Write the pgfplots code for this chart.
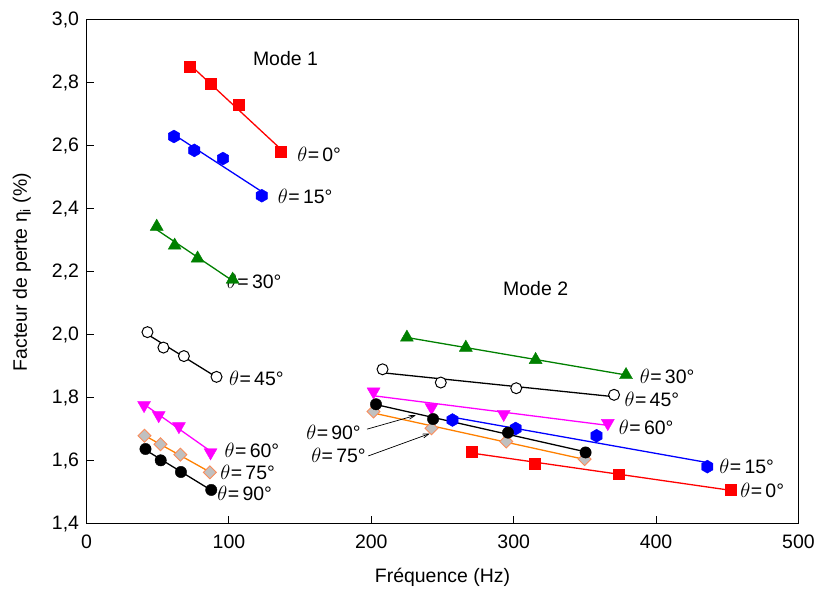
\documentclass[border=0pt]{standalone}
\usepackage{pgfplots}
\pgfplotsset{compat=1.18}
\usepackage{fontspec}
\setmainfont{Liberation Sans}
\usetikzlibrary{arrows.meta}

\definecolor{cred}{RGB}{255,0,0}
\definecolor{cblue}{RGB}{0,0,255}
\definecolor{cgreen}{RGB}{0,128,0}
\definecolor{cmag}{RGB}{255,0,255}
\definecolor{corange}{RGB}{255,128,0}
\definecolor{cdiaedge}{RGB}{250,140,90}
\definecolor{cgray}{RGB}{192,192,192}

\pgfdeclareplotmark{hexagon*}{%
  \pgfpathmoveto{\pgfpointpolar{90}{\pgfplotmarksize}}%
  \pgfpathlineto{\pgfpointpolar{150}{\pgfplotmarksize}}%
  \pgfpathlineto{\pgfpointpolar{210}{\pgfplotmarksize}}%
  \pgfpathlineto{\pgfpointpolar{270}{\pgfplotmarksize}}%
  \pgfpathlineto{\pgfpointpolar{330}{\pgfplotmarksize}}%
  \pgfpathlineto{\pgfpointpolar{30}{\pgfplotmarksize}}%
  \pgfpathclose
  \pgfusepathqfillstroke
}
\newcommand{\thlab}[1]{{\fontsize{22.5bp}{23bp}\selectfont$\theta$}\kern0.5bp=\,#1°}

\begin{document}
\begin{tikzpicture}
\begin{axis}[name=ax,
  scale only axis, width=713.3bp, height=505bp,
  xmin=0, xmax=500, ymin=1.4, ymax=3.0,
  xtick={0,100,200,300,400,500},
  ytick={1.4,1.6,1.8,2.0,2.2,2.4,2.6,2.8,3.0},
  tick align=inside, xtick pos=left, ytick pos=left,
  major tick length=7.5bp,
  axis line style={line width=1bp},
  every tick/.style={black, line width=1bp},
  /pgf/number format/assume math mode=true,
  yticklabel style={/pgf/number format/fixed, /pgf/number format/fixed zerofill,
    /pgf/number format/precision=1, /pgf/number format/use comma, xshift=-4bp},
  xticklabel style={yshift=-7bp},
  font=\fontsize{19.5bp}{23bp}\selectfont,
  xlabel={Fréquence (Hz)},
  ylabel={Facteur de perte η\textsubscript{i} (\%)},
  xlabel style={at={(axis description cs:0.5,-0.105)}, anchor=center},
  ylabel style={at={(axis description cs:-0.0907,0.5)}, anchor=center},
  clip=false,
]
% ---- regression lines, mode 1
\addplot[cred, line width=1.3bp] coordinates {(72.4,2.859) (136.2,2.591)};
\addplot[cblue, line width=1.3bp] coordinates {(61.4,2.636) (123.1,2.455)};
\addplot[cgreen, line width=1.3bp] coordinates {(49.3,2.334) (102.6,2.172)};
\addplot[black, line width=1.3bp] coordinates {(42.8,2.002) (91.3,1.866)};
\addplot[cmag, line width=1.3bp] coordinates {(40.4,1.780) (87.1,1.631)};
\addplot[corange, line width=1.3bp] coordinates {(40.7,1.681) (86.6,1.565)};
\addplot[black, line width=1.3bp] coordinates {(41.4,1.635) (87.6,1.507)};
% ---- regression lines, mode 2
\addplot[cgreen, line width=1.3bp] coordinates {(225.0,1.992) (378.9,1.873)};
\addplot[black, line width=1.3bp] coordinates {(207.9,1.880) (370.5,1.804)};
\addplot[cmag, line width=1.3bp] coordinates {(201.6,1.807) (366.1,1.713)};
\addplot[cblue, line width=1.3bp] coordinates {(257.0,1.739) (436.0,1.595)};
\addplot[corange, line width=1.3bp] coordinates {(201.6,1.752) (349.8,1.605)};
\addplot[black, line width=1.3bp] coordinates {(203.3,1.779) (350.5,1.629)};
\addplot[cred, line width=1.3bp] coordinates {(270.6,1.625) (452.1,1.507)};

% ---- marks
% theta = 0
\addplot[only marks, mark=square*, mark size=5.5bp, draw=cred, fill=cred] coordinates {
 (72.4,2.851) (87.1,2.797) (106.8,2.731) (136.2,2.582)
 (270.6,1.630) (315.0,1.590) (373.8,1.558) (452.1,1.509)};
% theta = 15
\addplot[only marks, mark=hexagon*, mark size=6.5bp, draw=cblue, fill=cblue] coordinates {
 (61.4,2.630) (75.7,2.586) (95.8,2.560) (123.1,2.442)
 (257.0,1.730) (301.4,1.703) (358.2,1.680) (436.0,1.582)};
% theta = 30
\addplot[only marks, mark=triangle*, mark size=7.5bp, draw=cgreen, fill=cgreen] coordinates {
 (49.3,2.344) (61.9,2.284) (78.0,2.243) (102.6,2.176)
 (225.0,1.992) (266.4,1.960) (315.4,1.921) (378.9,1.873)};
% theta = 45
\addplot[only marks, mark=*, mark size=5.5bp, draw=black, fill=white, line width=1bp] coordinates {
 (42.8,2.009) (54.0,1.960) (68.4,1.933) (91.3,1.867)
 (207.9,1.891) (248.8,1.849) (301.8,1.831) (370.5,1.810)};
% theta = 60
\addplot[only marks, mark=triangle*, mark size=7.5bp, mark options={rotate=180}, draw=cmag, fill=cmag] coordinates {
 (40.4,1.777) (50.7,1.745) (64.9,1.710) (87.1,1.627)
 (201.6,1.820) (242.3,1.770) (293.0,1.749) (366.1,1.720)};
% theta = 75
\addplot[only marks, mark=square*, mark size=4.6bp, mark options={rotate=45}, draw=cdiaedge, fill=cgray, line width=0.9bp] coordinates {
 (40.7,1.680) (51.9,1.653) (65.9,1.620) (86.6,1.564)
 (201.6,1.757) (242.3,1.704) (294.8,1.662) (349.8,1.606)};
% theta = 90
\addplot[only marks, mark=*, mark size=5.7bp, draw=black, fill=black] coordinates {
 (41.4,1.638) (52.1,1.602) (66.3,1.565) (87.6,1.508)
 (203.3,1.780) (243.4,1.733) (296.0,1.690) (350.5,1.627)};

% ---- labels
\begin{scope}[every node/.style={inner sep=0pt, anchor=west}]
\node at (axis cs:116.8,2.876) {Mode 1};
\node at (axis cs:292.5,2.147) {Mode 2};

\node at (axis cs:147.9,2.572) {\thlab{0}};
\node at (axis cs:134.3,2.440) {\thlab{15}};
\node at (axis cs:98.5,2.170) {\thlab{30}};
\node at (axis cs:100.0,1.863) {\thlab{45}};
\node at (axis cs:96.9,1.635) {\thlab{60}};
\node at (axis cs:93.9,1.564) {\thlab{75}};
\node at (axis cs:91.8,1.497) {\thlab{90}};

\node at (axis cs:388.5,1.868) {\thlab{30}};
\node at (axis cs:377.8,1.796) {\thlab{45}};
\node at (axis cs:373.8,1.706) {\thlab{60}};
\node at (axis cs:444.4,1.583) {\thlab{15}};
\node at (axis cs:459.1,1.506) {\thlab{0}};
\node at (axis cs:154.2,1.692) {\thlab{90}};
\node at (axis cs:157.7,1.619) {\thlab{75}};
\end{scope}

\draw[black, line width=0.7bp, -{Straight Barb[length=6bp,width=4bp]}] (axis cs:197.0,1.701) -- (axis cs:231.3,1.745);
\draw[black, line width=0.7bp, -{Straight Barb[length=6bp,width=4bp]}] (axis cs:197.9,1.616) -- (axis cs:241.1,1.687);
\end{axis}
\path ([shift={(-86.7bp,-65bp)}]ax.south west) rectangle ([shift={(18bp,20bp)}]ax.north east);
\end{tikzpicture}
\end{document}
